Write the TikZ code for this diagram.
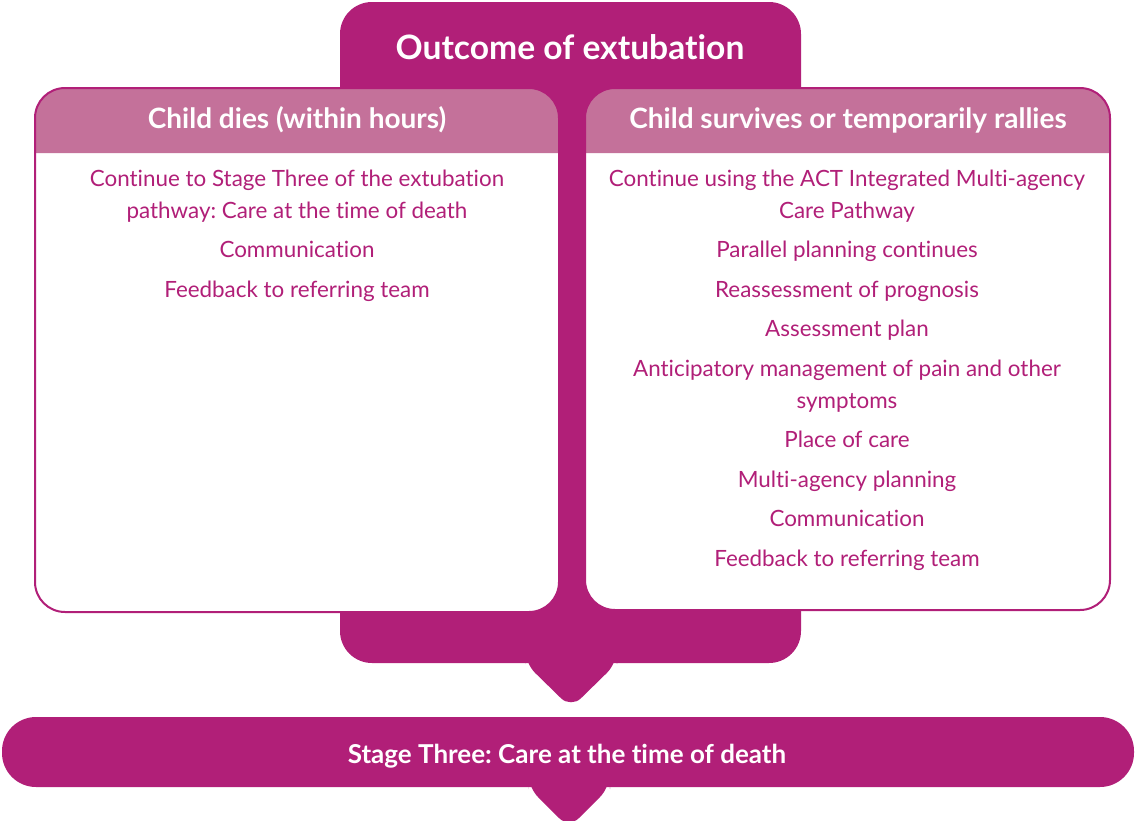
\documentclass[tikz,border=0pt]{standalone}
\usepackage{fontspec}
\setmainfont{Lato}[Ligatures=NoCommon]
\usepackage{tikz}
\usetikzlibrary{positioning}
\frenchspacing

\definecolor{pathmagenta}{HTML}{B11F78}
\definecolor{pathpink}{HTML}{C4719A}

\begin{document}
\begin{tikzpicture}[x=0.5pt, y=-0.5pt,
  panelline/.style={draw=pathmagenta, line width=1pt},
  heading/.style={text=white, font=\bfseries\fontsize{14}{16}\selectfont, anchor=base},
  item/.style={text=pathmagenta, font=\fontsize{11.2}{13}\selectfont, anchor=base, inner sep=0pt}]
  \useasboundingbox (0,0) rectangle (1136,820);

  % magenta backing shape with its pointer
  \fill[pathmagenta, rounded corners=16pt] (340,2) rectangle (801,663);
  \fill[pathmagenta, rounded corners=7pt] (525,650) -- (525,663) -- (571,708) -- (617,663) -- (617,650) -- cycle;
  \node[text=white, font=\bfseries\fontsize{16.8}{19}\selectfont, anchor=base] (outcome) at (570,59) {Outcome of extubation};

  % left panel
  \fill[white, rounded corners=15pt] (35,88) rectangle (559,612);
  \fill[pathpink] (35,153) [rounded corners=15pt] -- (35,88) -- (559,88) [sharp corners] -- (559,153) -- cycle;
  \draw[panelline, rounded corners=15pt] (35,88) rectangle (559,612);
  \node[heading] (dies) at (297,128) {Child dies (within hours)};
  \node[item] (dies1) at (297,186) {Continue to Stage Three of the extubation};
  \node[item] (dies2) at (297,218) {pathway: Care at the time of death};
  \node[item] (dies3) at (297,257) {Communication};
  \node[item] (dies4) at (297,297) {Feedback to referring team};

  % right panel
  \fill[white, rounded corners=15pt] (585,88) rectangle (1110,610);
  \fill[pathpink] (585,153) [rounded corners=15pt] -- (585,88) -- (1110,88) [sharp corners] -- (1110,153) -- cycle;
  \draw[panelline, rounded corners=15pt] (585,88) rectangle (1110,610);
  \node[heading] (survives) at (848,128) {Child survives or temporarily rallies};
  \node[item] (surv1) at (847,186) {Continue using the ACT Integrated Multi-agency};
  \node[item] (surv2) at (847,218) {Care Pathway};
  \node[item] (surv3) at (847,257) {Parallel planning continues};
  \node[item] (surv4) at (847,297) {Reassessment of prognosis};
  \node[item] (surv5) at (847,336) {Assessment plan};
  \node[item] (surv6) at (847,376) {Anticipatory management of pain and other};
  \node[item] (surv7) at (847,408) {symptoms};
  \node[item] (surv8) at (847,447) {Place of care};
  \node[item] (surv9) at (847,487) {Multi-agency planning};
  \node[item] (surv10) at (847,526) {Communication};
  \node[item] (surv11) at (847,566) {Feedback to referring team};

  % stage three bar
  \fill[pathmagenta, rounded corners=17pt] (2,717) rectangle (1134,787);
  \fill[pathmagenta, rounded corners=7pt] (528,775) -- (528,787) -- (569,828) -- (610,787) -- (610,775) -- cycle;
  \node[text=white, font=\bfseries\fontsize{13}{15}\selectfont, anchor=base] (stage) at (567,763) {Stage Three: Care at the time of death};
\end{tikzpicture}
\end{document}
